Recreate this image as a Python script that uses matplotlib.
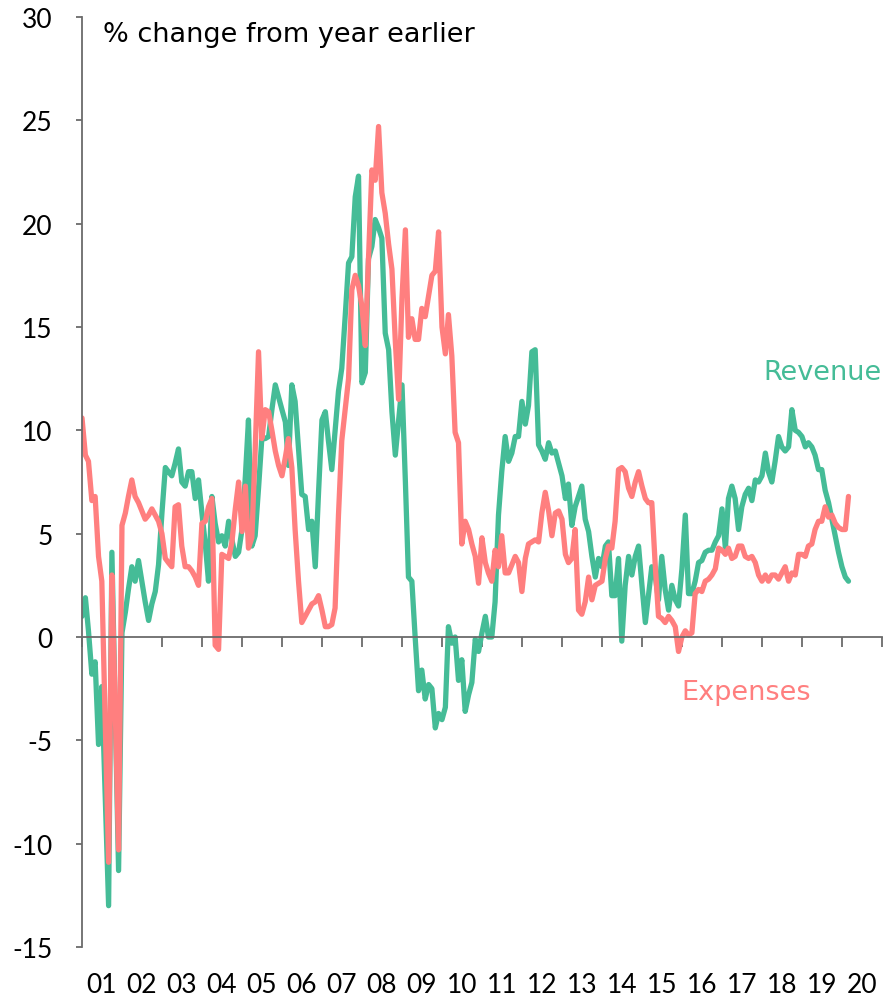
import matplotlib
matplotlib.use("Agg")
import matplotlib.pyplot as plt
import matplotlib.dates as mdates
import pandas as pd

# monthly data, Jan 2001 onwards (% change from year earlier)
start_month = "2001-01-01"

revenue = [
    1.0, 1.9, 0.3, -1.8, -1.2, -5.2, -2.4, -7.7, -13.0, 4.1, -3.6, -11.3,
    0.2, 1.2, 2.3, 3.4, 2.7, 3.7, 2.7, 1.7, 0.8, 1.6, 2.2, 3.5,
    6.0, 8.2, 8.0, 7.8, 8.4, 9.1, 7.5, 7.3, 8.0, 8.0, 6.7, 7.6,
    6.0, 4.5, 2.7, 6.8, 5.5, 4.6, 4.9, 4.4, 5.6, 4.7, 3.9, 4.1,
    5.2, 7.8, 10.5, 4.4, 4.9, 7.2, 9.6, 9.6, 9.7, 11.0, 12.2, 11.6,
    11.0, 10.4, 8.3, 12.2, 11.4, 9.1, 6.9, 6.8, 5.2, 5.6, 3.4, 7.0,
    10.5, 10.9, 9.5, 8.1, 10.0, 11.9, 13.0, 15.5, 18.1, 18.4, 21.3, 22.3,
    12.3, 12.8, 18.3, 18.9, 20.2, 19.8, 19.3, 14.7, 13.9, 10.9, 8.8, 10.5,
    12.2, 7.5, 2.9, 2.7, 0.0, -2.6, -1.6, -3.0, -2.3, -2.5, -4.4, -3.7,
    -4.0, -3.4, 0.5, -0.3, 0.0, -2.1, -1.1, -3.6, -2.8, -2.2, -0.1, -0.7,
    0.2, 1.0, 0.0, 0.0, 1.7, 5.9, 8.0, 9.7, 8.5, 8.9, 9.7, 9.7,
    11.4, 10.3, 11.2, 13.8, 13.9, 9.3, 9.0, 8.6, 9.4, 8.9, 9.0, 8.4,
    7.8, 6.7, 7.4, 5.4, 6.3, 6.8, 7.3, 5.7, 5.1, 3.9, 2.9, 3.8,
    3.4, 4.4, 4.6, 2.0, 2.0, 3.8, -0.2, 2.5, 3.9, 3.0, 3.9, 4.4,
    2.5, 0.7, 2.0, 3.4, 3.0, 1.8, 3.9, 2.3, 1.3, 2.5, 1.8, 1.5,
    3.3, 5.9, 2.1, 2.1, 2.7, 3.6, 3.7, 4.1, 4.2, 4.2, 4.6, 4.9,
    6.2, 4.3, 6.7, 7.3, 6.7, 5.2, 6.3, 6.9, 7.2, 6.6, 7.6, 7.5,
    7.8, 8.9, 8.0, 7.5, 8.5, 9.7, 9.2, 9.0, 9.2, 11.0, 10.0, 9.9,
    9.7, 9.2, 9.4, 9.2, 8.8, 8.1, 8.1, 7.1, 6.5, 5.7, 4.9, 4.1,
    3.4, 2.9, 2.7,
]

expenses = [
    10.6, 8.8, 8.5, 6.6, 6.8, 3.9, 2.7, -4.0, -10.9, 3.0, -3.6, -10.3,
    5.4, 6.0, 6.8, 7.6, 6.8, 6.5, 6.1, 5.7, 5.9, 6.2, 5.9, 5.6,
    5.0, 3.8, 3.6, 3.4, 6.3, 6.4, 4.4, 3.4, 3.4, 3.2, 2.9, 2.5,
    5.5, 5.6, 6.3, 6.7, -0.4, -0.6, 4.0, 3.9, 3.8, 4.6, 6.2, 7.5,
    5.1, 7.3, 4.3, 4.8, 9.0, 13.8, 9.6, 11.0, 10.9, 10.0, 9.0, 8.3,
    7.8, 8.7, 9.6, 8.2, 5.2, 2.7, 0.7, 1.0, 1.3, 1.6, 1.7, 2.0,
    1.3, 0.5, 0.5, 0.6, 1.4, 5.9, 9.5, 11.0, 12.5, 16.8, 17.5, 17.0,
    16.0, 14.1, 18.3, 22.6, 22.1, 24.7, 21.5, 20.5, 19.0, 17.8, 14.3, 11.5,
    16.4, 19.7, 14.5, 15.4, 14.4, 14.4, 15.9, 15.5, 16.5, 17.5, 17.7, 19.6,
    15.0, 13.7, 15.6, 13.6, 9.9, 9.4, 4.5, 5.6, 5.2, 4.5, 3.9, 2.6,
    4.8, 3.6, 3.1, 2.7, 4.2, 3.4, 4.9, 3.1, 3.1, 3.5, 3.9, 3.6,
    2.2, 3.8, 4.5, 4.6, 4.7, 4.6, 6.0, 7.0, 6.1, 4.9, 6.0, 6.1,
    5.7, 4.0, 3.6, 3.8, 5.2, 1.3, 1.1, 1.7, 2.9, 1.8, 2.5, 2.6,
    2.7, 3.8, 4.4, 4.3, 5.6, 8.1, 8.2, 8.0, 7.2, 6.8, 7.5, 8.0,
    7.3, 6.7, 6.5, 6.5, 3.6, 1.0, 0.9, 0.7, 1.0, 0.8, 0.5, -0.7,
    0.0, 0.3, 0.1, 0.2, 2.1, 2.3, 2.2, 2.7, 2.8, 3.0, 3.3, 4.3,
    4.2, 4.0, 4.3, 3.8, 3.9, 4.4, 4.4, 3.9, 3.8, 3.9, 3.6, 3.0,
    2.7, 3.0, 2.7, 3.0, 3.0, 2.8, 3.1, 3.4, 2.7, 3.1, 3.0, 4.0,
    4.0, 3.9, 4.4, 4.5, 5.2, 5.6, 5.6, 6.3, 5.8, 5.9, 5.5, 5.3,
    5.2, 5.2, 6.8,
]

year_labels = ["%02d" % y for y in range(1, 21)]

green = "#45BC97"
red = "#FF7F7F"
axis_grey = "#6b6b6b"

dates = pd.date_range(start_month, periods=len(revenue), freq="MS")

plt.rcParams["font.family"] = ["Lato", "DejaVu Sans"]
wide_font = ["DejaVu Sans"]

fig = plt.figure(figsize=(8.83, 10.03), dpi=100)
ax = fig.add_axes([82 / 883, 1 - 948 / 1003, 800 / 883, 930 / 1003])

ax.plot(dates, revenue, color=green, lw=3.8, solid_joinstyle="round", solid_capstyle="round")
ax.plot(dates, expenses, color=red, lw=3.8, solid_joinstyle="round", solid_capstyle="round")

ax.set_xlim(pd.Timestamp("2001-01-01"), pd.Timestamp("2021-01-01"))
ax.set_ylim(-15, 30)
ax.set_yticks(range(-15, 31, 5))
ax.set_yticklabels([str(v) for v in range(-15, 31, 5)], fontsize=19)

# year boundary ticks on the zero line, labels under the plot
ax.xaxis.set_major_locator(mdates.YearLocator())
ax.xaxis.set_major_formatter(plt.NullFormatter())
ax.spines["bottom"].set_position(("data", 0))
ax.spines["top"].set_visible(False)
ax.spines["right"].set_visible(False)
for s in ("left", "bottom"):
    ax.spines[s].set_color(axis_grey)
    ax.spines[s].set_linewidth(1.3)
ax.tick_params(axis="x", direction="out", length=7, width=1.3, color=axis_grey)
ax.tick_params(axis="y", direction="out", length=4, width=1.3, color=axis_grey, pad=17)

for i, lab in enumerate(year_labels):
    mid = pd.Timestamp(year=2001 + i, month=7, day=2)
    ax.text(mid, -0.04, lab, transform=ax.get_xaxis_transform(), ha="center", va="center",
            fontsize=19)

ax.text(0.026, 0.982, "% change from year earlier", transform=ax.transAxes,
        ha="left", va="center", fontsize=19.5, family=wide_font)
ax.text(1.0, 12.8, "Revenue", transform=ax.get_yaxis_transform(), ha="right", va="center",
        fontsize=19.5, color=green, family=wide_font)
ax.text(0.83, -2.65, "Expenses", transform=ax.get_yaxis_transform(), ha="center", va="center",
        fontsize=19.5, color=red, family=wide_font)

fig.savefig("out.png", dpi=100)
